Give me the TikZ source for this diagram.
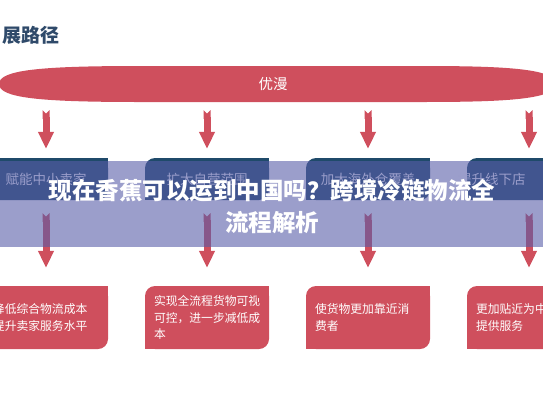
\documentclass[tikz,border=0pt]{standalone}
\usepackage{fontspec}
\setmainfont{Noto Sans CJK SC}
\usetikzlibrary{arrows.meta}
\definecolor{rdred}{HTML}{CF4F5D}
\definecolor{rdnavy}{HTML}{1F4A6A}
\definecolor{rdhead}{HTML}{2F4A6A}
\definecolor{rdveil}{HTML}{585DA8}
\tikzset{
  stage/.style={rectangle,rounded corners=10pt,fill=rdnavy,minimum width=124pt,minimum height=42pt,inner sep=0pt,text=white,font=\fontsize{13.5}{16}\selectfont},
  gain/.style={rectangle,rounded corners=10pt,fill=rdred,minimum width=124pt,minimum height=63pt,inner sep=0pt,text=white,align=left,text width=106pt,font=\fontsize{11.8}{16.5}\selectfont},
  flow/.style={draw=rdred,line width=7pt,{Triangle Cap[reversed]}-{Triangle[width=15pt,length=17pt]}},
  veil/.style={fill=rdveil,fill opacity=.6},
  headline/.style={text=white,font=\bfseries\fontsize{23.5}{32}\selectfont,align=center},
}
\begin{document}
\begin{tikzpicture}[x=1pt,y=-1pt]
  \useasboundingbox (0,0) rectangle (543,408);
  \node[anchor=west,text=rdhead,font=\bfseries\fontsize{19}{22}\selectfont] (pagetitle) at (-1,35) {展路径};
  % red band
  \fill[rdred] (-1,84) .. controls (-1,70) and (40,66) .. (140,66) -- (420,66)
    .. controls (500,66) and (556,68) .. (556,84)
    .. controls (556,100) and (500,102) .. (420,102) -- (140,102)
    .. controls (40,102) and (-1,98) .. (-1,84) -- cycle;
  \node[minimum height=36pt,text=white,font=\fontsize{14.5}{16}\selectfont] (band) at (273,84) {优漫};
  % stages
  \node[stage] (s1) at (46,179) {赋能中小卖家};
  \node[stage] (s2) at (207,179) {扩大自营范围};
  \node[stage] (s3) at (368,179) {加大海外仓覆盖};
  \node[stage,text width=124pt,align=left] (s4) at (529,179) {\hspace*{-9pt}提升线下店};
  \node[gain] (g1) at (46,317.5) {降低综合物流成本\\提升卖家服务水平};
  \node[gain] (g2) at (207,317.5) {实现全流程货物可视\\可控，进一步减低成\\本};
  \node[gain] (g3) at (368,317.5) {使货物更加靠近消\\费者};
  \node[gain] (g4) at (529,317.5) {更加贴近为中\\提供服务};
  \foreach \k in {1,...,4} {
    \fill[rdnavy] (s\k.north east) rectangle ++(-12,12);
    \fill[rdnavy] (s\k.south west) rectangle ++(12,-12);
    \fill[rdred] (g\k.north east) rectangle ++(-12,12);
    \fill[rdred] (g\k.south west) rectangle ++(12,-12);
    \draw[flow,shorten <=8pt,shorten >=9pt] (band.south -| s\k.north) -- (s\k.north);
    \draw[flow,shorten <=13pt,shorten >=18pt] (s\k.south) -- (g\k.north);
  }
  % overlay
  \fill[veil] (0,161) rectangle (543,247);
  \node[headline] (headline) at (272,207) {现在香蕉可以运到中国吗？跨境冷链物流全\\流程解析};
\end{tikzpicture}
\end{document}
